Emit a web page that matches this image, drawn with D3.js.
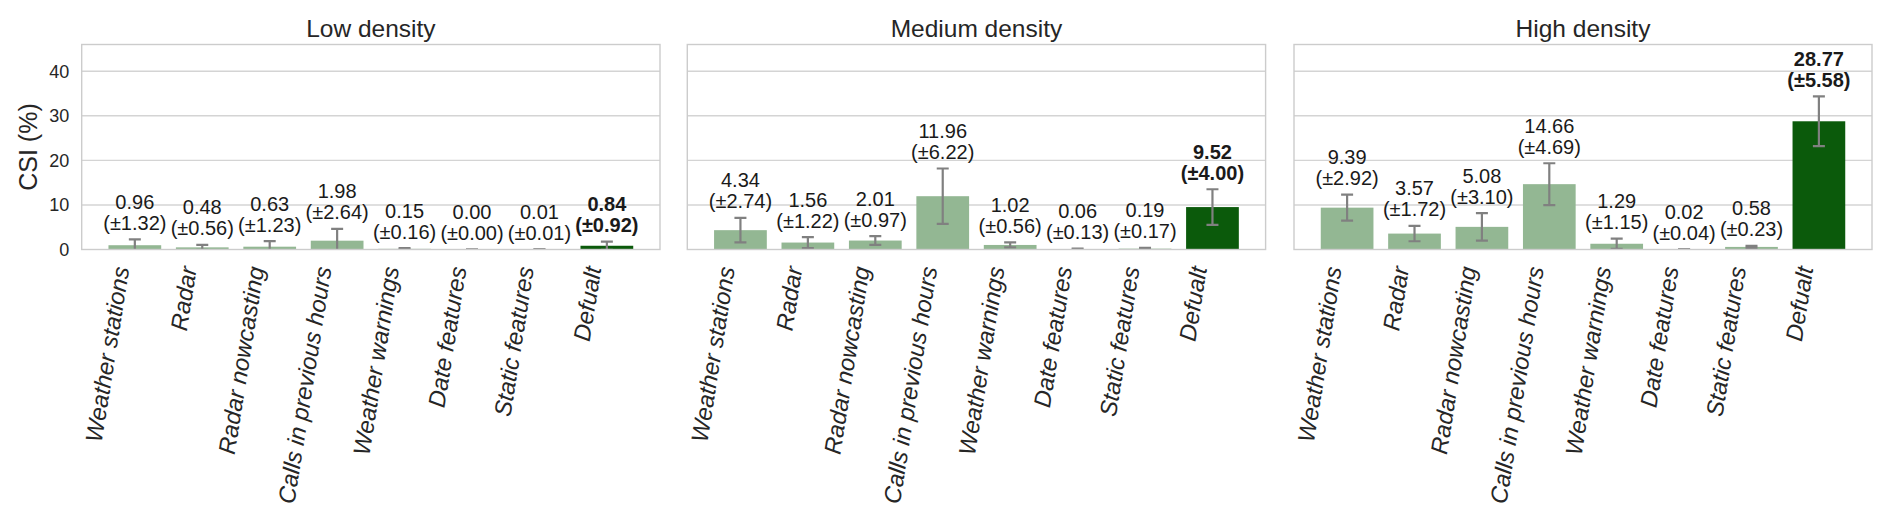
<!DOCTYPE html>
<html>
<head>
<meta charset="utf-8">
<script src="https://cdn.jsdelivr.net/npm/d3@7"></script>
<style>
  html, body { margin: 0; padding: 0; background: #fff; }
  svg { display: block; font-family: "Liberation Sans", Arial, Helvetica, sans-serif; }
</style>
</head>
<body>
<svg id="chart" width="1892" height="518"></svg>
<script>
// ---- data ----
const categories = ["Weather stations", "Radar", "Radar nowcasting", "Calls in previous hours",
                    "Weather warnings", "Date features", "Static features", "Defualt"];
const panelTitles = ["Low density", "Medium density", "High density"];
const lowValues    = [0.96, 0.48, 0.63, 1.98, 0.15, 0.00, 0.01, 0.84];
const lowErrors    = [1.32, 0.56, 1.23, 2.64, 0.16, 0.00, 0.01, 0.92];
const mediumValues = [4.34, 1.56, 2.01, 11.96, 1.02, 0.06, 0.19, 9.52];
const mediumErrors = [2.74, 1.22, 0.97, 6.22, 0.56, 0.13, 0.17, 4.00];
const highValues   = [9.39, 3.57, 5.08, 14.66, 1.29, 0.02, 0.58, 28.77];
const highErrors   = [2.92, 1.72, 3.10, 4.69, 1.15, 0.04, 0.23, 5.58];
const yTicks = [0, 10, 20, 30, 40];
const yLabel = "CSI (%)";
const highlightCategory = "Defualt";

const panels = [
  { title: panelTitles[0], values: lowValues, errors: lowErrors },
  { title: panelTitles[1], values: mediumValues, errors: mediumErrors },
  { title: panelTitles[2], values: highValues, errors: highErrors }
];

// ---- layout ----
const svg = d3.select("#chart");
const panelX = [[81.7, 660], [687.3, 1265.6], [1294, 1872]];
const plotTop = 44.5, plotBottom = 249.5;
const y = d3.scaleLinear().domain([0, 46]).range([plotBottom, plotTop]);

const lightGreen = "#93b793", darkGreen = "#0b5a0b";
const gridColor = "#d4d4d4", textColor = "#262626", errColor = "#808080";

svg.append("defs").selectAll("clipPath").data(panelX).join("clipPath")
  .attr("id", (d, i) => "clip" + i)
  .append("rect")
  .attr("x", d => d[0]).attr("y", plotTop)
  .attr("width", d => d[1] - d[0]).attr("height", plotBottom - plotTop);

panels.forEach((p, pi) => {
  const [x0, x1] = panelX[pi];
  const x = d3.scaleBand().domain(categories).range([x0, x1])
    .paddingInner(0.218).paddingOuter(0.397);
  const g = svg.append("g");

  // grid
  g.append("g").selectAll("line").data(yTicks.filter(t => t > 0)).join("line")
    .attr("x1", x0).attr("x2", x1)
    .attr("y1", d => y(d)).attr("y2", d => y(d))
    .attr("stroke", gridColor).attr("stroke-width", 1.4);

  const data = categories.map((c, i) => ({ c, v: p.values[i], e: p.errors[i] }));

  const plot = g.append("g").attr("clip-path", `url(#clip${pi})`);
  // bars
  plot.selectAll("rect.bar").data(data).join("rect")
    .attr("class", "bar")
    .attr("x", d => x(d.c)).attr("width", x.bandwidth())
    .attr("y", d => y(d.v)).attr("height", d => y(0) - y(d.v))
    .attr("fill", d => d.c === highlightCategory ? darkGreen : lightGreen);

  // error bars
  const eb = plot.selectAll("g.err").data(data).join("g").attr("class", "err")
    .attr("stroke", errColor).attr("stroke-width", 2.2);
  const cx = d => x(d.c) + x.bandwidth() / 2;
  eb.append("line")
    .attr("x1", cx).attr("x2", cx)
    .attr("y1", d => y(d.v - d.e)).attr("y2", d => y(d.v + d.e));
  eb.append("line")
    .attr("x1", d => cx(d) - 6).attr("x2", d => cx(d) + 6)
    .attr("y1", d => y(d.v + d.e)).attr("y2", d => y(d.v + d.e));
  eb.append("line")
    .attr("x1", d => cx(d) - 6).attr("x2", d => cx(d) + 6)
    .attr("y1", d => y(d.v - d.e)).attr("y2", d => y(d.v - d.e));

  // frame
  g.append("rect")
    .attr("x", x0).attr("y", plotTop).attr("width", x1 - x0).attr("height", plotBottom - plotTop)
    .attr("fill", "none").attr("stroke", "#cccccc").attr("stroke-width", 1.4);

  // annotations
  const ann = g.selectAll("text.ann").data(data).join("text")
    .attr("class", "ann")
    .attr("text-anchor", "middle")
    .attr("font-size", 20)
    .attr("fill", "#1a1a1a")
    .attr("font-weight", d => d.c === highlightCategory ? "bold" : "normal");
  ann.append("tspan")
    .attr("x", cx).attr("y", d => y(d.v + d.e) - 9.5 - 21)
    .text(d => d.v.toFixed(2));
  ann.append("tspan")
    .attr("x", cx).attr("y", d => y(d.v + d.e) - 9.5)
    .text(d => `(±${d.e.toFixed(2)})`);

  // title
  g.append("text")
    .attr("x", (x0 + x1) / 2).attr("y", 36.7)
    .attr("text-anchor", "middle").attr("font-size", 24.5).attr("fill", textColor)
    .text(p.title);

  // x tick labels
  g.selectAll("text.xt").data(categories).join("text")
    .attr("class", "xt")
    .attr("text-anchor", "end")
    .attr("font-size", 23.7)
    .attr("font-style", "italic")
    .attr("fill", textColor)
    .attr("transform", d => `translate(${x(d) + x.bandwidth() / 2 - 5.5},268) rotate(-81)`)
    .text(d => d);

  // y tick labels (first panel only)
  if (pi === 0) {
    g.selectAll("text.yt").data(yTicks).join("text")
      .attr("class", "yt")
      .attr("x", x0 - 12.4).attr("y", d => y(d))
      .attr("dy", "0.35em")
      .attr("text-anchor", "end").attr("font-size", 18).attr("fill", textColor)
      .text(d => d);
    g.append("text")
      .attr("transform", `translate(37,${(plotTop + plotBottom) / 2}) rotate(-90)`)
      .attr("text-anchor", "middle").attr("font-size", 25).attr("fill", textColor)
      .text(yLabel);
  }
});
</script>
</body>
</html>
